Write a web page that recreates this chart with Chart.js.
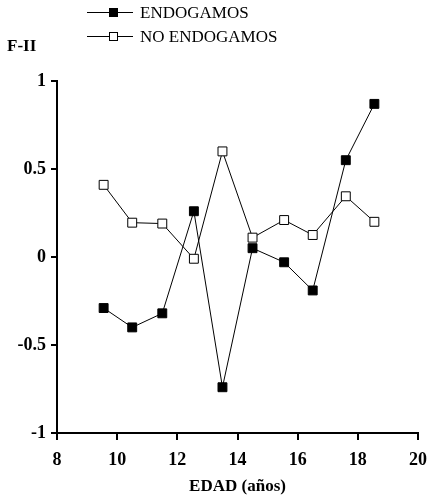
<!DOCTYPE html>
<html>
<head>
<meta charset="utf-8">
<script src="https://cdn.jsdelivr.net/npm/chart.js@4"></script>
<style>
  html, body { margin: 0; padding: 0; background: #fff; }
  #wrap { position: relative; width: 430px; height: 501px; font-family: "Liberation Serif", "Times New Roman", serif; color: #000; }
  #chart { position: absolute; left: 0; top: 0; }
  .leg { position: absolute; left: 87px; height: 20px; font-size: 17px; line-height: 20px; }
  .leg .ln { position: absolute; left: 0; top: 9px; width: 46px; height: 1px; background: #000; }
  .leg .mk { position: absolute; left: 22px; top: 5px; width: 7px; height: 7px; border: 1px solid #000; }
  .leg .tx { position: absolute; left: 53px; top: 0; white-space: nowrap; }
  #ytitle { position: absolute; left: 7px; top: 36px; font-size: 17px; font-weight: bold; }
</style>
</head>
<body>
<div id="wrap">
  <canvas id="chart" width="430" height="501"></canvas>
  <div class="leg" style="top:3px"><div class="ln"></div><div class="mk" style="background:#000"></div><div class="tx">ENDOGAMOS</div></div>
  <div class="leg" style="top:27px"><div class="ln"></div><div class="mk" style="background:#fff"></div><div class="tx">NO ENDOGAMOS</div></div>
  <div id="ytitle">F-II</div>
</div>
<script>
const edad = [9.55, 10.5, 11.5, 12.55, 13.5, 14.5, 15.55, 16.5, 17.6, 18.55];
const endogamos = [-0.29, -0.40, -0.32, 0.26, -0.74, 0.05, -0.03, -0.19, 0.55, 0.87];
const noEndogamos = [0.41, 0.195, 0.19, -0.01, 0.60, 0.11, 0.21, 0.125, 0.345, 0.20];
const xTicks = [8, 10, 12, 14, 16, 18, 20];
const yTicks = [-1, -0.5, 0, 0.5, 1];

const tickFont = { family: "'Liberation Serif', 'Times New Roman', serif", size: 18, weight: 'bold' };

new Chart(document.getElementById('chart').getContext('2d'), {
  type: 'scatter',
  data: {
    datasets: [{
      label: 'ENDOGAMOS',
      data: edad.map((x, i) => ({ x: x, y: endogamos[i] })),
      showLine: true,
      borderColor: '#000',
      borderWidth: 1,
      pointStyle: 'rect',
      pointRadius: 6.3,
      pointBackgroundColor: '#000',
      pointBorderColor: '#000',
      pointBorderWidth: 1
    }, {
      label: 'NO ENDOGAMOS',
      data: edad.map((x, i) => ({ x: x, y: noEndogamos[i] })),
      showLine: true,
      borderColor: '#000',
      borderWidth: 1,
      pointStyle: 'rect',
      pointRadius: 6.3,
      pointBackgroundColor: '#fff',
      pointBorderColor: '#000',
      pointBorderWidth: 1
    }]
  },
  options: {
    responsive: false,
    animation: false,
    layout: { padding: { top: 81, right: 12, left: 0, bottom: 0 } },
    plugins: { legend: { display: false }, tooltip: { enabled: false } },
    scales: {
      x: {
        type: 'linear',
        min: 8, max: 20,
        afterBuildTicks: s => { s.ticks = xTicks.map(v => ({ value: v })); },
        afterFit: s => { s.height = 68; s.paddingLeft = 0; s.paddingRight = 0; },
        grid: { drawOnChartArea: false, drawTicks: true, tickLength: 7, color: '#000', lineWidth: 2 },
        border: { color: '#000', width: 2 },
        ticks: { color: '#000', font: tickFont, padding: 10, maxRotation: 0 },
        title: { display: true, text: 'EDAD (años)', color: '#000', font: { family: tickFont.family, size: 17, weight: 'bold' }, padding: { top: 11 } }
      },
      y: {
        type: 'linear',
        min: -1, max: 1,
        afterBuildTicks: s => { s.ticks = yTicks.map(v => ({ value: v })); },
        afterFit: s => { s.width = 57; s.paddingTop = 0; s.paddingBottom = 0; },
        grid: { drawOnChartArea: false, drawTicks: true, tickLength: 6, color: '#000', lineWidth: 2 },
        border: { color: '#000', width: 2 },
        ticks: { color: '#000', font: tickFont, padding: 5, callback: v => String(v) }
      }
    }
  }
});
</script>
</body>
</html>
